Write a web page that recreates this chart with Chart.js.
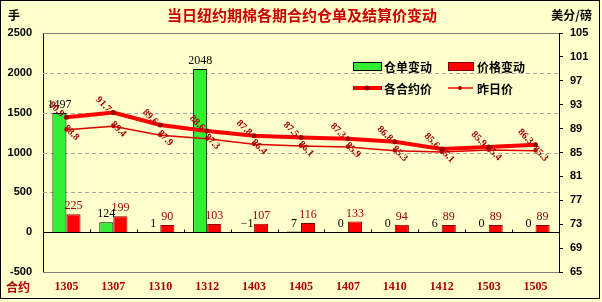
<!DOCTYPE html>
<html>
<head>
<meta charset="utf-8">
<script src="https://cdn.jsdelivr.net/npm/chart.js@4.4.0/dist/chart.umd.min.js"></script>
<style>
  html, body { margin: 0; padding: 0; background: #FFFFCC; }
  canvas { display: block; }
</style>
</head>
<body>
<canvas id="chart" width="602" height="302"></canvas>
<script>
// data
const contracts = ['1305', '1307', '1310', '1312', '1403', '1405', '1407', '1410', '1412', '1503', '1505'];
const stockChange = [1497, 124, 1, 2048, -1, 7, 0, 0, 6, 0, 0];
const priceChange = [225, 199, 90, 103, 107, 116, 133, 94, 89, 89, 89];
const settlePrice = [90.9, 91.7, 89.6, 88.6, 87.8, 87.5, 87.3, 86.8, 85.6, 85.9, 86.3];
const prevPrice = [88.8, 89.4, 87.9, 87.3, 86.4, 86.1, 85.9, 85.3, 85.1, 85.4, 85.3];
const leftTicks = [-500, 0, 500, 1000, 1500, 2000, 2500];
const rightTicks = [65, 69, 73, 77, 81, 85, 89, 93, 97, 101, 105];

const BG = '#FFFFCC';
const CJK = '"Noto Sans CJK SC", sans-serif';
const SERIF = '"Liberation Serif", "DejaVu Serif", serif';
const SANS = '"Liberation Sans", Arial, sans-serif';

// background, frame, grid lines, labels, title and legend
const decorPlugin = {
  id: 'decor',
  beforeDraw(chart) {
    const ctx = chart.ctx;
    ctx.save();
    ctx.fillStyle = BG;
    ctx.fillRect(0, 0, chart.width, chart.height);
    ctx.strokeStyle = '#000';
    ctx.lineWidth = 1;
    ctx.strokeRect(0.5, 0.5, 599, 298);
    ctx.restore();
  },
  beforeDatasetsDraw(chart) {
    const ctx = chart.ctx;
    const area = chart.chartArea;
    const y = chart.scales.y;
    ctx.save();
    ctx.lineWidth = 1;
    leftTicks.forEach(v => {
      if (v === 0) return;
      const py = Math.round(y.getPixelForValue(v)) + 0.5;
      if (v === leftTicks[0] || v === leftTicks[leftTicks.length - 1]) {
        ctx.strokeStyle = '#808080';
        ctx.setLineDash([]);
      } else {
        ctx.strokeStyle = '#A8A8A8';
        ctx.setLineDash([4, 3]);
      }
      ctx.beginPath();
      ctx.moveTo(area.left, py);
      ctx.lineTo(area.right, py);
      ctx.stroke();
    });
    ctx.restore();
  },
  afterDatasetsDraw(chart) {
    const ctx = chart.ctx;
    const area = chart.chartArea;
    const y = chart.scales.y;
    const x = chart.scales.x;
    // zero line with small ticks between categories
    const y0 = Math.round(y.getPixelForValue(0)) + 0.5;
    ctx.save();
    ctx.strokeStyle = '#000';
    ctx.lineWidth = 1;
    ctx.beginPath();
    ctx.moveTo(area.left, y0);
    ctx.lineTo(area.right, y0);
    for (let i = 1; i < contracts.length; i++) {
      const px = Math.round((x.getPixelForValue(i - 1) + x.getPixelForValue(i)) / 2) + 0.5;
      ctx.moveTo(px, y0 - 3);
      ctx.lineTo(px, y0);
    }
    ctx.stroke();

    // bar value labels
    ctx.textAlign = 'center';
    ctx.textBaseline = 'bottom';
    ctx.font = '12px ' + SERIF;
    chart.getDatasetMeta(0).data.forEach((el, i) => {
      ctx.fillStyle = '#000';
      ctx.fillText(String(stockChange[i]).replace('-', '\u2212'), el.x, Math.min(el.y, el.base) - 2);
    });
    chart.getDatasetMeta(1).data.forEach((el, i) => {
      ctx.fillStyle = '#990000';
      ctx.fillText(String(priceChange[i]), el.x, Math.min(el.y, el.base) - 2);
    });

    // rotated price labels
    ctx.font = 'bold 10px ' + SERIF;
    ctx.fillStyle = '#A00000';
    ctx.textAlign = 'center';
    ctx.textBaseline = 'middle';
    const drawRot = (meta, vals, dx, dy) => {
      meta.data.forEach((pt, i) => {
        ctx.save();
        ctx.translate(pt.x + dx, pt.y + dy);
        ctx.rotate(Math.PI / 4);
        ctx.fillText(vals[i].toFixed(1), 0, 0);
        ctx.restore();
      });
    };
    drawRot(chart.getDatasetMeta(2), settlePrice, -10, -8);
    drawRot(chart.getDatasetMeta(3), prevPrice, 5, 3);

    // title and units
    ctx.textBaseline = 'middle';
    ctx.font = 'bold 15px ' + CJK;
    ctx.fillStyle = '#CC0000';
    ctx.textAlign = 'center';
    ctx.fillText('当日纽约期棉各期合约仓单及结算价变动', 302, 15);
    ctx.font = 'bold 12px ' + CJK;
    ctx.fillStyle = '#000';
    ctx.textAlign = 'left';
    ctx.fillText('手', 8, 15);
    ctx.textAlign = 'right';
    ctx.fillText('美分/磅', 592, 15);
    ctx.fillStyle = '#B00000';
    ctx.textAlign = 'left';
    ctx.fillText('合约', 6, 287);

    // legend
    ctx.font = 'bold 12px ' + CJK;
    ctx.fillStyle = '#33EE33';
    ctx.fillRect(353, 62, 28, 8);
    ctx.strokeStyle = '#000';
    ctx.strokeRect(353.5, 62.5, 28, 8);
    ctx.fillStyle = '#FF0000';
    ctx.fillRect(448, 62, 25, 8);
    ctx.strokeStyle = '#800000';
    ctx.strokeRect(448.5, 62.5, 25, 8);
    ctx.fillStyle = '#000';
    ctx.fillText('仓单变动', 384, 67);
    ctx.fillText('价格变动', 477, 67);
    ctx.strokeStyle = '#FF0000';
    ctx.lineWidth = 4;
    ctx.beginPath();
    ctx.moveTo(353, 88);
    ctx.lineTo(382, 88);
    ctx.stroke();
    ctx.fillStyle = '#990000';
    ctx.beginPath();
    ctx.arc(367, 88, 2.5, 0, Math.PI * 2);
    ctx.fill();
    ctx.lineWidth = 1.5;
    ctx.beginPath();
    ctx.moveTo(448, 88);
    ctx.lineTo(473, 88);
    ctx.stroke();
    ctx.beginPath();
    ctx.arc(460, 88, 2, 0, Math.PI * 2);
    ctx.fill();
    ctx.fillStyle = '#000';
    ctx.fillText('各合约价', 384, 89);
    ctx.fillText('昨日价', 477, 89);
    ctx.restore();
  }
};

new Chart(document.getElementById('chart').getContext('2d'), {
  type: 'bar',
  data: {
    labels: contracts,
    datasets: [
      {
        label: '仓单变动',
        data: stockChange,
        backgroundColor: '#33EE33',
        borderColor: '#000',
        borderWidth: 1,
        yAxisID: 'y',
        order: 2,
        categoryPercentage: 0.6,
        barPercentage: 1.0
      },
      {
        label: '价格变动',
        data: priceChange,
        backgroundColor: '#FF0000',
        borderColor: '#800000',
        borderWidth: 1,
        yAxisID: 'y',
        order: 2,
        categoryPercentage: 0.6,
        barPercentage: 1.0
      },
      {
        type: 'line',
        label: '各合约价',
        data: settlePrice,
        borderColor: '#FF0000',
        borderWidth: 4,
        pointRadius: 2.5,
        pointBackgroundColor: '#990000',
        pointBorderWidth: 0,
        yAxisID: 'y1',
        order: 0,
        tension: 0
      },
      {
        type: 'line',
        label: '昨日价',
        data: prevPrice,
        borderColor: '#E00000',
        borderWidth: 1.5,
        pointRadius: 2,
        pointBackgroundColor: '#CC0000',
        pointBorderWidth: 0,
        yAxisID: 'y1',
        order: 1,
        tension: 0
      }
    ]
  },
  options: {
    responsive: false,
    animation: false,
    devicePixelRatio: 1,
    layout: { padding: { top: 33, left: 0, right: 0, bottom: 0 } },
    plugins: {
      legend: { display: false },
      tooltip: { enabled: false },
      title: { display: false }
    },
    scales: {
      x: {
        offset: true,
        grid: { display: false, drawTicks: false },
        border: { display: true, color: '#808080' },
        ticks: {
          color: '#B00000',
          font: { family: SERIF, size: 12, weight: 'bold' },
          padding: 8,
          maxRotation: 0
        },
        afterFit: s => { s.height = 30; }
      },
      y: {
        position: 'left',
        min: -500,
        max: 2500,
        afterBuildTicks: s => { s.ticks = leftTicks.map(v => ({ value: v })); },
        grid: { display: false, drawTicks: false },
        border: { display: true, color: '#000' },
        ticks: {
          color: '#000',
          font: { family: SANS, size: 11, weight: 'bold' },
          padding: 11,
          callback: v => String(v)
        },
        afterFit: s => { s.width = 43; }
      },
      y1: {
        position: 'right',
        min: 65,
        max: 105,
        afterBuildTicks: s => { s.ticks = rightTicks.map(v => ({ value: v })); },
        grid: { drawOnChartArea: false, drawTicks: true, tickLength: 4, color: '#000' },
        border: { display: true, color: '#000' },
        ticks: {
          color: '#000',
          font: { family: SANS, size: 11, weight: 'bold' },
          padding: 7,
          callback: v => String(v)
        },
        afterFit: s => { s.width = 43; }
      }
    }
  },
  plugins: [decorPlugin]
});
</script>
</body>
</html>
